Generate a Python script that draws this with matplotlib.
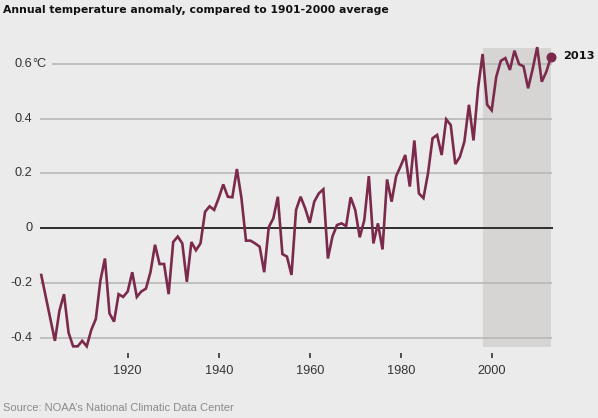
import matplotlib
matplotlib.use("Agg")
import matplotlib.pyplot as plt

# ---- data ----
years = list(range(1901, 2014))
anomaly = [
    -0.17, -0.25, -0.33, -0.41, -0.30, -0.24, -0.38, -0.43, -0.43, -0.41,  # 1901-1910
    -0.43, -0.37, -0.33, -0.19, -0.11, -0.31, -0.34, -0.24, -0.25, -0.23,  # 1911-1920
    -0.16, -0.25, -0.23, -0.22, -0.16, -0.06, -0.13, -0.13, -0.24, -0.05,  # 1921-1930
    -0.03, -0.055, -0.195, -0.05, -0.08, -0.055, 0.06, 0.08, 0.067, 0.11,  # 1931-1940
    0.16, 0.115, 0.113, 0.216, 0.11, -0.045, -0.045, -0.055, -0.067, -0.16,  # 1941-1950
    0.004, 0.036, 0.115, -0.094, -0.103, -0.17, 0.067, 0.115, 0.073, 0.02,  # 1951-1960
    0.097, 0.127, 0.142, -0.11, -0.03, 0.012, 0.018, 0.008, 0.113, 0.067,  # 1961-1970
    -0.033, 0.03, 0.19, -0.055, 0.018, -0.077, 0.178, 0.097, 0.19, 0.227,  # 1971-1980
    0.267, 0.152, 0.32, 0.127, 0.11, 0.20, 0.328, 0.34, 0.267, 0.397,  # 1981-1990
    0.376, 0.234, 0.26, 0.316, 0.45, 0.32, 0.51, 0.635, 0.45, 0.43,  # 1991-2000
    0.552, 0.61, 0.62, 0.577, 0.647, 0.598, 0.59, 0.51, 0.58, 0.66,  # 2001-2010
    0.534, 0.57, 0.623,  # 2011-2013
]
ytick_values = [0.6, 0.4, 0.2, 0, -0.2, -0.4]
ytick_labels = ["0.6", "0.4", "0.2", "0", "-0.2", "-0.4"]
xtick_years = [1920, 1940, 1960, 1980, 2000]
shade_start, shade_end = 1998, 2013
title = "Annual temperature anomaly, compared to 1901-2000 average"
source = "Source: NOAA\u2019s National Climatic Data Center"

# ---- figure ----
W, H = 598, 418
BG = "#ebebeb"
fig = plt.figure(figsize=(W / 100, H / 100), dpi=100, facecolor=BG)
ax = fig.add_axes([0, 0, 1, 1])
ax.set_facecolor(BG)
ax.axis("off")

# pixel mapping: 1900 -> x=36.7, 4.55 px/year ; 0 -> y=228.3, 274.5 px/unit
def px_to_year(px):
    return 1900 + (px - 36.7) / 4.55

def py_to_val(py):
    return (228.3 - py) / 274.5

ax.set_xlim(px_to_year(0), px_to_year(W))
ax.set_ylim(py_to_val(H), py_to_val(0))

# shaded recent period
ax.fill_between([shade_start + 0.1, shade_end], py_to_val(347), py_to_val(47.5),
                color="#d6d5d3", zorder=1, lw=0)

# gridlines
x_left = px_to_year(40)
x_right = px_to_year(552)
for v in ytick_values:
    if v == 0:
        ax.plot([x_left, px_to_year(553)], [0, 0], color="#2e2e2e", lw=1.4, zorder=2,
                solid_capstyle="butt")
    else:
        start = px_to_year(52) if v == 0.6 else x_left
        ax.plot([start, x_right], [v, v], color="#b8b8b8", lw=1.2, zorder=2,
                solid_capstyle="butt")

# y labels
lab_x = px_to_year(32.5)
for v, lab in zip(ytick_values, ytick_labels):
    ax.text(lab_x, v, lab, ha="right", va="center", fontsize=9.2,
            family="Liberation Sans", color="#333333")
    if v == 0.6:
        ax.text(lab_x, v, "\u00b0C", ha="left", va="center", fontsize=9.2,
                family="Liberation Sans", color="#333333")

# x ticks
for yr in xtick_years:
    ax.plot([yr, yr], [py_to_val(352.5), py_to_val(357.5)], color="#333333", lw=1.2,
            zorder=2, solid_capstyle="butt")
    ax.text(yr, py_to_val(371.5), str(yr), ha="center", va="center", fontsize=9.2,
            family="Liberation Sans", color="#333333")

# data line
LINE = "#7b2a4c"
ax.plot(years, anomaly, color=LINE, lw=1.9, zorder=4, solid_joinstyle="miter")
ax.plot([years[-1]], [anomaly[-1]], "o", color=LINE, ms=6.2, zorder=5)
ax.text(years[-1] + 2.6, anomaly[-1] + 0.005, str(years[-1]), ha="left", va="center",
        fontsize=8.2, fontweight="bold", family="DejaVu Sans", color="#111111")

# title and source
fig.text(3 / W, 1 - 10 / H, title, ha="left", va="center", fontsize=7.85,
         fontweight="bold", family="DejaVu Sans", color="#111111")
fig.text(3 / W, 1 - 408 / H, source, ha="left", va="center", fontsize=8.0,
         family="Liberation Sans", color="#8a8a8a")

fig.savefig("out.png", dpi=100, facecolor=BG)
